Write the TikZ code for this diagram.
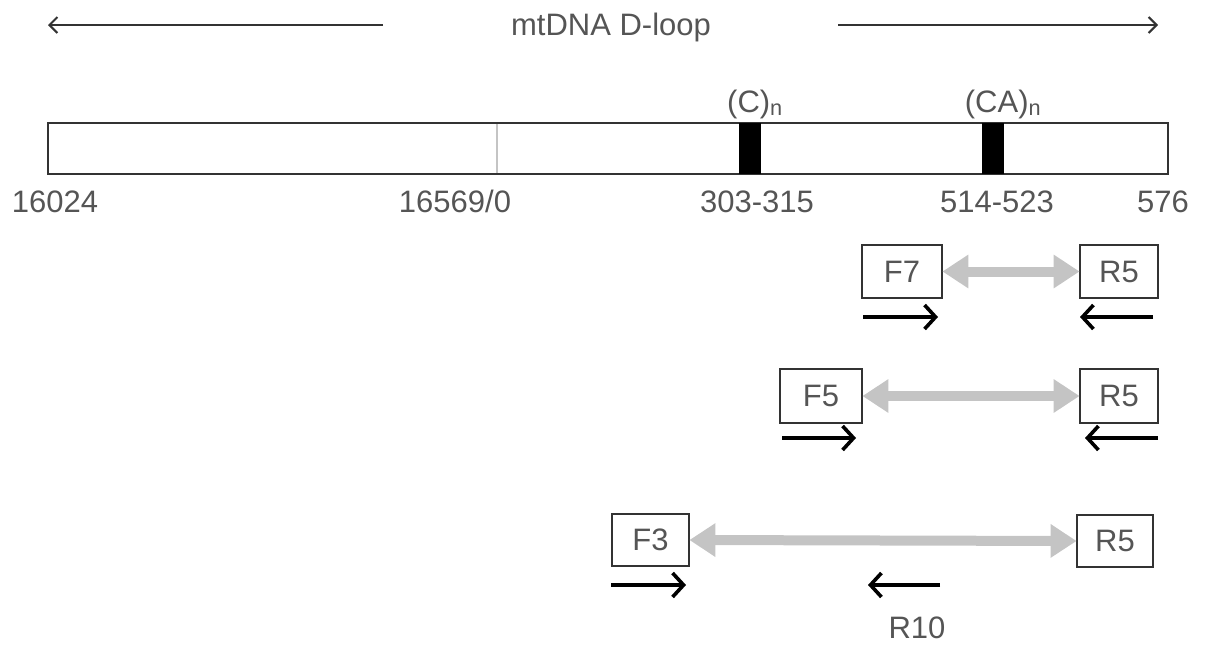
\documentclass[tikz,border=0pt]{standalone}
\usepackage{fontspec}
\setmainfont{Liberation Sans}
\usetikzlibrary{arrows.meta}
\definecolor{txt}{HTML}{555555}
\definecolor{edge}{HTML}{333333}
\definecolor{lgray}{HTML}{C4C4C4}
\tikzset{
  lbl/.style={text=txt, font=\fontsize{31}{36}\selectfont, anchor=base, inner sep=0pt},
  primer/.style={draw=edge, line width=2.8pt, text=txt, font=\fontsize{31}{36}\selectfont, inner sep=0pt},
  product/.style={draw=lgray, line width=10pt, {Triangle[length=26pt,width=32pt]}-{Triangle[length=26pt,width=32pt]}, shorten <=-1pt, shorten >=-1pt},
  dirarrow/.style={draw=black, line width=3.6pt, -{Straight Barb[length=11pt,width=24pt,line width=3.6pt]}},
  toparrow/.style={draw=edge, line width=2pt, -{Straight Barb[length=8pt,width=16pt,line width=2pt]}},
  marker/.style={fill=black, draw=none, inner sep=0pt, minimum width=22pt, minimum height=51pt}
}
\begin{document}
\begin{tikzpicture}[x=1pt,y=-1pt]
\useasboundingbox (0,0) rectangle (1205,651);
% title and top arrows
\node[lbl] (title) at (611,35) {mtDNA D-loop};
\coordinate (tl0) at (383,25);
\coordinate (tl1) at (48,25);
\coordinate (tr0) at (838,25);
\coordinate (tr1) at (1158,25);
\draw[toparrow] (tl0) -- (tl1);
\draw[toparrow] (tr0) -- (tr1);
% bar
\node[draw=edge, line width=2.5pt, minimum width=1120pt, minimum height=51pt, inner sep=0pt] (bar) at (608,148.5) {};
\coordinate (zt) at (497,124);
\coordinate (zb) at (497,173);
\draw[lgray, line width=1.8pt] (zt) -- (zb);
\node[marker] (mC) at (750,148.5) {};
\node[marker] (mCA) at (992.5,148.5) {};
\node[lbl] (lC) at (755,112) {(C)\textsubscript{n}};
\node[lbl] (lCA) at (1003,112) {(CA)\textsubscript{n}};
% position labels
\node[lbl] (p1) at (55,212) {16024};
\node[lbl] (p2) at (455,212) {16569/0};
\node[lbl] (p3) at (757,212) {303-315};
\node[lbl] (p4) at (997,212) {514-523};
\node[lbl] (p5) at (1163,212) {576};
% row 1
\node[primer, minimum width=80pt, minimum height=53pt] (F7) at (902,271.5) {F7};
\node[primer, minimum width=78pt, minimum height=53pt] (R5a) at (1119,271.5) {R5};
\draw[product] (F7.east) -- (R5a.west);
\coordinate (a1s) at (863,317); \coordinate (a1e) at (938,317);
\coordinate (b1s) at (1153,317); \coordinate (b1e) at (1080,317);
\draw[dirarrow] (a1s) -- (a1e);
\draw[dirarrow] (b1s) -- (b1e);
% row 2
\node[primer, minimum width=82pt, minimum height=54pt] (F5) at (821,396) {F5};
\node[primer, minimum width=78pt, minimum height=54pt] (R5b) at (1119,396) {R5};
\draw[product] (F5.east) -- (R5b.west);
\coordinate (a2s) at (782,438); \coordinate (a2e) at (856,438);
\coordinate (b2s) at (1158,438); \coordinate (b2e) at (1085,438);
\draw[dirarrow] (a2s) -- (a2e);
\draw[dirarrow] (b2s) -- (b2e);
% row 3
\node[primer, minimum width=77pt, minimum height=52pt] (F3) at (650.5,540) {F3};
\node[primer, minimum width=76pt, minimum height=52pt] (R5c) at (1115,541) {R5};
\draw[product] (F3.east) -- (R5c.west);
\coordinate (a3s) at (611,585); \coordinate (a3e) at (686,585);
\coordinate (b3s) at (940,585); \coordinate (b3e) at (868,585);
\draw[dirarrow] (a3s) -- (a3e);
\draw[dirarrow] (b3s) -- (b3e);
\node[lbl] (R10) at (917,638) {R10};
\end{tikzpicture}
\end{document}
